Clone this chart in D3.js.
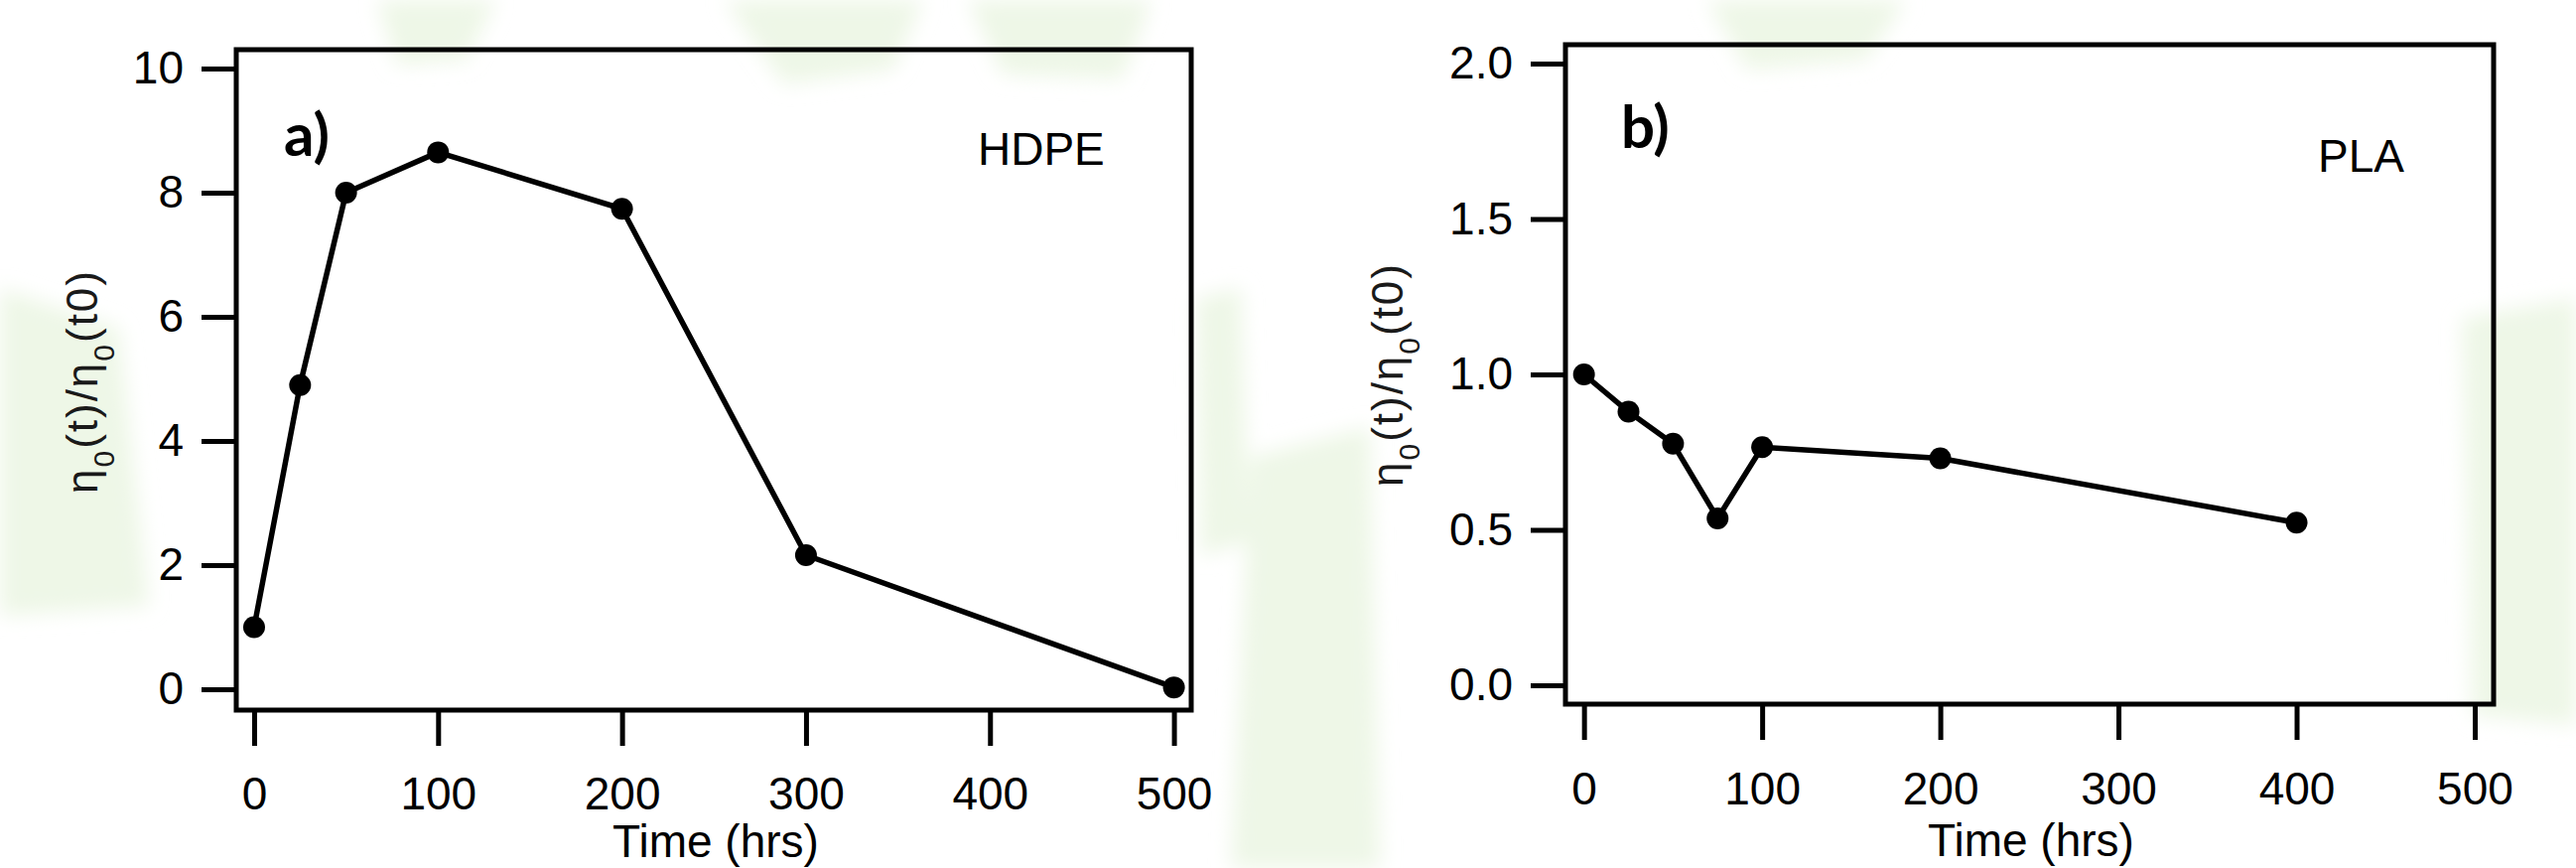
<!DOCTYPE html>
<html>
<head>
<meta charset="utf-8">
<script src="https://cdn.jsdelivr.net/npm/d3@7/dist/d3.min.js"></script>
<style>
  html, body { margin: 0; padding: 0; background: #ffffff; }
  svg { display: block; }
</style>
</head>
<body>
<script>
// Zero-shear viscosity ratio versus ageing time
const hdpeTime  = [0, 25, 50, 100, 200, 300, 500];
const hdpeRatio = [1.0, 4.9, 8.0, 8.65, 7.74, 2.16, 0.03];

const plaTime  = [0, 25, 50, 75, 100, 200, 400];
const plaRatio = [1.0, 0.88, 0.777, 0.537, 0.766, 0.73, 0.523];

const timeTicks = [0, 100, 200, 300, 400, 500];
const hdpeTicks = [0, 2, 4, 6, 8, 10];
const plaTicks  = [0.0, 0.5, 1.0, 1.5, 2.0];

const W = 2595, H = 874;
const svg = d3.select("body").append("svg")
  .attr("width", W).attr("height", H);

// faint green backdrop shapes
const defs = svg.append("defs");
defs.append("filter").attr("id", "soft")
  .attr("x", "-20%").attr("y", "-20%").attr("width", "140%").attr("height", "140%")
  .append("feGaussianBlur").attr("stdDeviation", 10);
const bg = svg.append("g").attr("fill", "#eef7e7").attr("filter", "url(#soft)");
const blobs = [
  "M380,0 L500,0 L470,60 L400,65 Z",
  "M730,0 L930,0 L900,70 L790,85 Z",
  "M975,0 L1160,0 L1130,80 L1010,75 Z",
  "M1720,0 L1920,0 L1880,60 L1760,70 Z",
  "M1260,460 L1380,430 L1390,874 L1240,874 Z",
  "M0,290 L120,330 L150,610 L0,620 Z",
  "M2480,320 L2595,300 L2595,730 L2490,720 Z",
  "M1205,300 L1250,290 L1258,545 L1210,560 Z"
];
bg.selectAll("path").data(blobs).join("path").attr("d", d => d);

function drawPanel(opt) {
  const g = svg.append("g");
  const x = d3.scaleLinear().domain(opt.xDomain).range([opt.left, opt.right]);
  const y = d3.scaleLinear().domain(opt.yDomain).range([opt.bottom, opt.top]);

  const font = "'Liberation Sans', Arial, sans-serif";

  // left axis
  const ya = g.append("g")
    .attr("transform", `translate(${opt.left},0)`)
    .call(d3.axisLeft(y).tickValues(opt.yTicks).tickSize(35).tickPadding(18)
      .tickFormat(opt.yFormat));
  // bottom axis
  const xa = g.append("g")
    .attr("transform", `translate(0,${opt.bottom})`)
    .call(d3.axisBottom(x).tickValues(timeTicks).tickSize(36).tickPadding(opt.xPad)
      .tickFormat(d3.format("d")));

  [ya, xa].forEach(a => {
    a.select(".domain").remove();
    a.selectAll(".tick line").attr("stroke", "#000").attr("stroke-width", 5);
    a.selectAll(".tick text").attr("fill", "#000")
      .style("font-family", font).style("font-size", "46px");
  });

  // frame
  g.append("rect")
    .attr("x", opt.left).attr("y", opt.top)
    .attr("width", opt.right - opt.left).attr("height", opt.bottom - opt.top)
    .attr("fill", "none").attr("stroke", "#000").attr("stroke-width", 5);

  const pts = opt.t.map((t, i) => [t, opt.v[i]]);
  g.append("path")
    .datum(pts)
    .attr("fill", "none").attr("stroke", "#000").attr("stroke-width", 5.5)
    .attr("stroke-linejoin", "round")
    .attr("d", d3.line().x(d => x(d[0])).y(d => y(d[1])));
  g.selectAll("circle.pt").data(pts).join("circle")
    .attr("class", "pt")
    .attr("cx", d => x(d[0])).attr("cy", d => y(d[1]))
    .attr("r", 11).attr("fill", "#000");

  // panel letter
  g.append("text")
    .attr("x", opt.letterX).attr("y", opt.letterY)
    .style("font-family", "Lato, 'Open Sans', sans-serif")
    .style("font-weight", 700).style("font-size", "60px")
    .attr("fill", "#000").text(opt.letter);

  // material name
  g.append("text")
    .attr("x", opt.nameX).attr("y", opt.nameY)
    .style("font-family", font).style("font-size", "46px")
    .attr("fill", "#000").text(opt.name);

  // axis titles
  g.append("text")
    .attr("x", opt.xTitleX).attr("y", opt.xTitleY)
    .attr("text-anchor", "middle")
    .style("font-family", font).style("font-size", "46px")
    .attr("fill", "#000").text("Time (hrs)");

  const yt = g.append("text")
    .attr("transform", `translate(${opt.yTitleX},${opt.yTitleY}) rotate(-90)`)
    .attr("text-anchor", "middle")
    .attr("textLength", 224).attr("lengthAdjust", "spacing")
    .style("font-family", font).style("font-size", "44px")
    .attr("fill", "#1a1a1a");
  yt.append("tspan").text("η");
  yt.append("tspan").attr("baseline-shift", "sub").style("font-size", "30px").text("0");
  yt.append("tspan").text("(t)/η");
  yt.append("tspan").attr("baseline-shift", "sub").style("font-size", "30px").text("0");
  yt.append("tspan").text("(t0)");
}

drawPanel({
  t: hdpeTime, v: hdpeRatio, yTicks: hdpeTicks, yFormat: d3.format("d"),
  left: 238, right: 1200, top: 50, bottom: 715,
  xDomain: [-9.7, 509.4], yDomain: [-0.336, 10.304], xPad: 31,
  letter: "a)", letterX: 286, letterY: 157,
  name: "HDPE", nameX: 985, nameY: 166,
  xTitleX: 721, xTitleY: 863,
  yTitleX: 98, yTitleY: 385
});

drawPanel({
  t: plaTime, v: plaRatio, yTicks: plaTicks, yFormat: d3.format(".1f"),
  left: 1577, right: 2512, top: 45, bottom: 709,
  xDomain: [-10.4, 510.6], yDomain: [-0.0607, 2.0607], xPad: 32,
  letter: "b)", letterX: 1633, letterY: 149,
  name: "PLA", nameX: 2335, nameY: 173,
  xTitleX: 2046, xTitleY: 862,
  yTitleX: 1413, yTitleY: 378
});
</script>
</body>
</html>
